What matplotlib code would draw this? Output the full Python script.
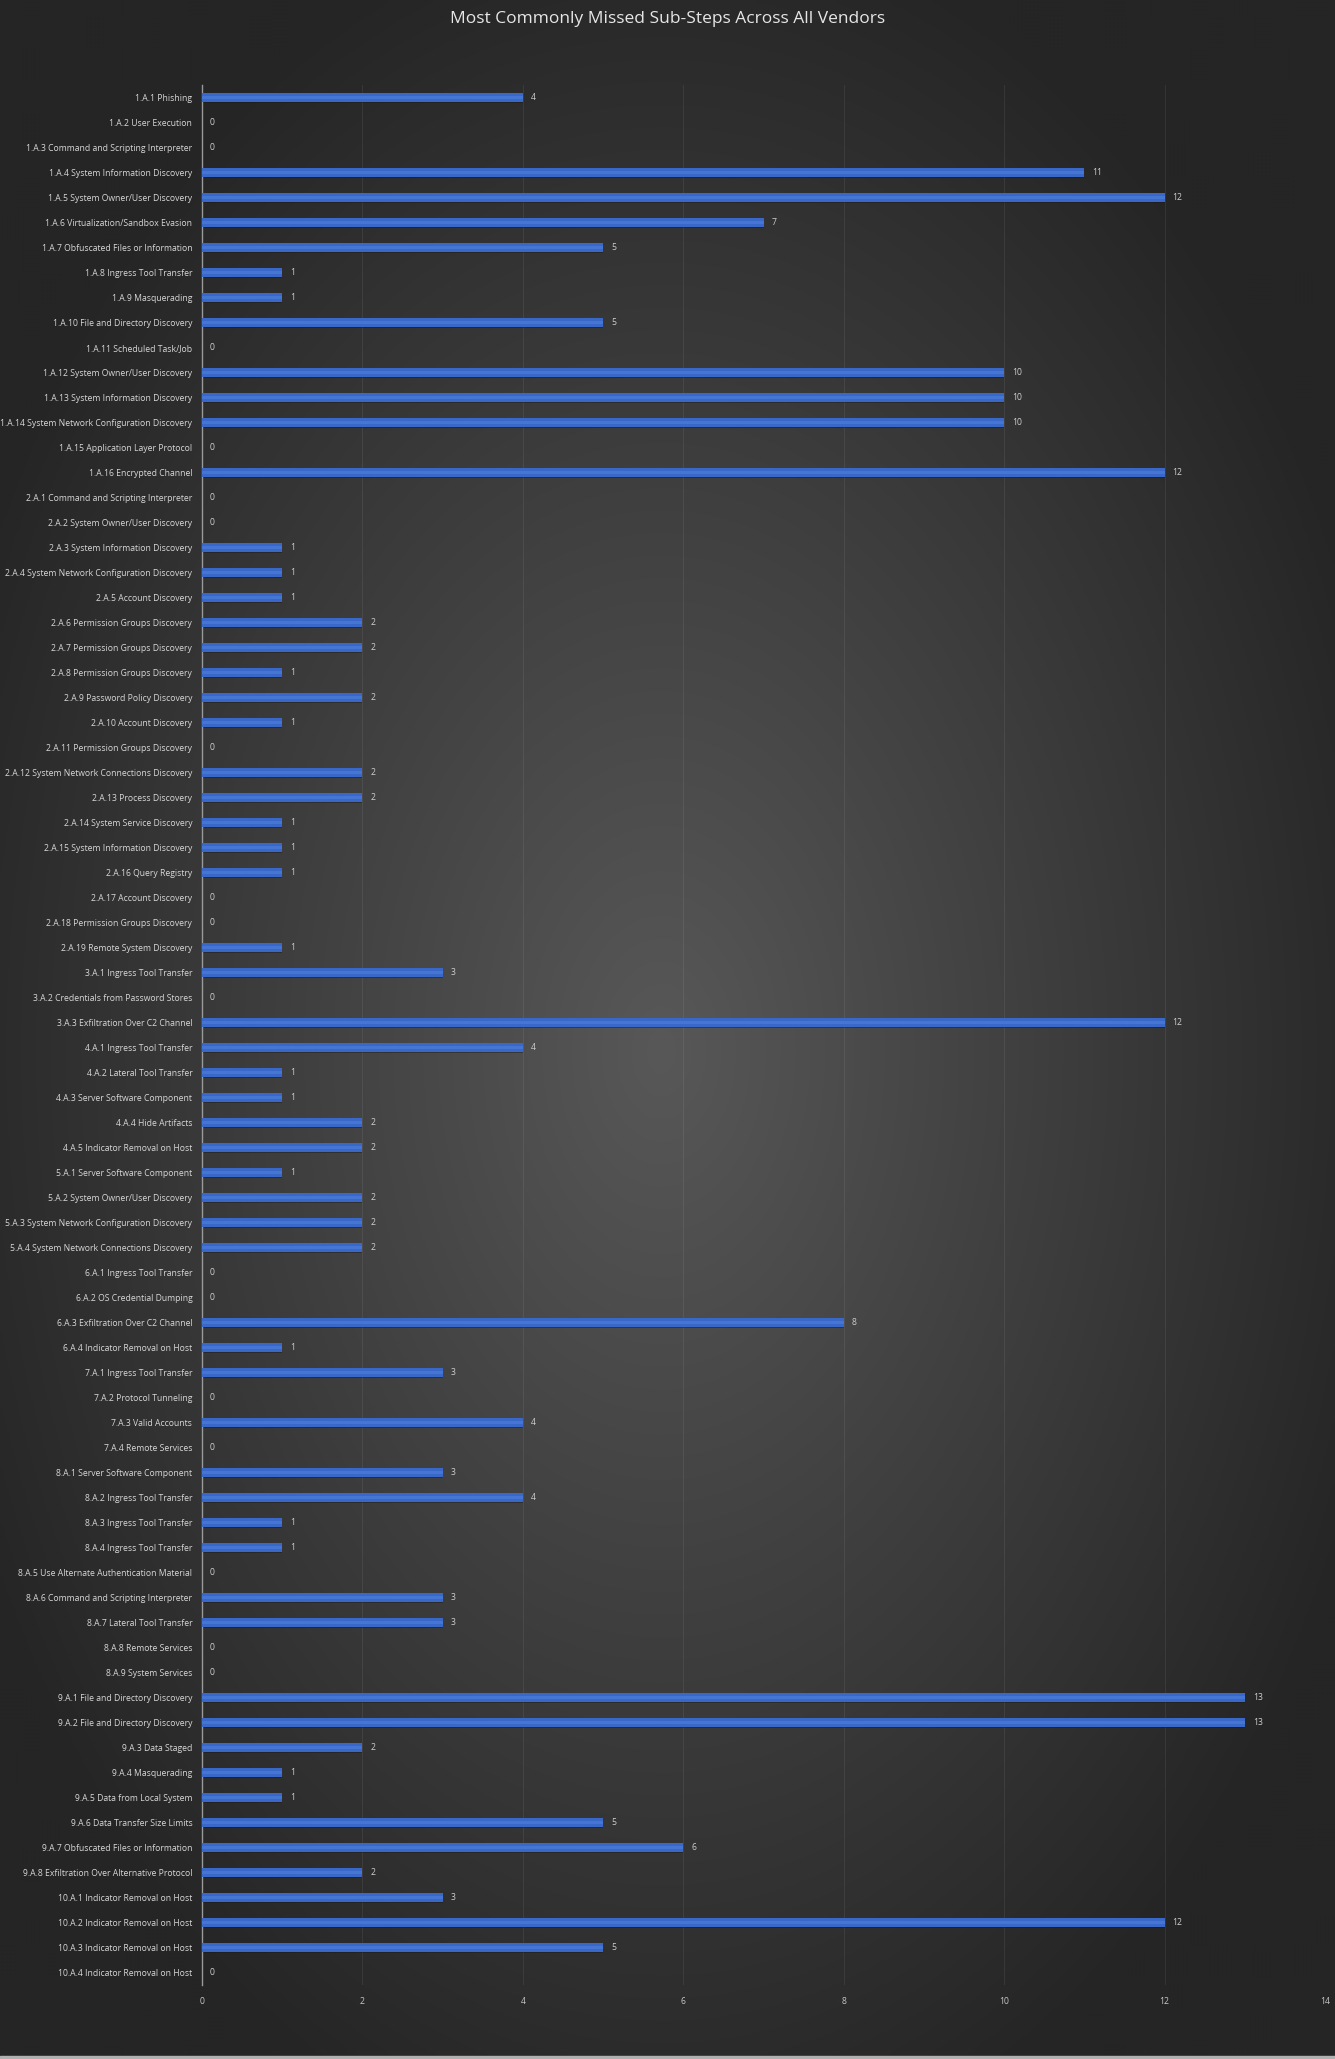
import matplotlib
matplotlib.use("Agg")
import matplotlib.pyplot as plt
import numpy as np
from matplotlib.patches import Rectangle

labels = [
    "1.A.1 Phishing", "1.A.2 User Execution", "1.A.3 Command and Scripting Interpreter",
    "1.A.4 System Information Discovery", "1.A.5 System Owner/User Discovery",
    "1.A.6 Virtualization/Sandbox Evasion", "1.A.7 Obfuscated Files or Information",
    "1.A.8 Ingress Tool Transfer", "1.A.9 Masquerading", "1.A.10 File and Directory Discovery",
    "1.A.11 Scheduled Task/Job", "1.A.12 System Owner/User Discovery",
    "1.A.13 System Information Discovery", "1.A.14 System Network Configuration Discovery",
    "1.A.15 Application Layer Protocol", "1.A.16 Encrypted Channel",
    "2.A.1 Command and Scripting Interpreter", "2.A.2 System Owner/User Discovery",
    "2.A.3 System Information Discovery", "2.A.4 System Network Configuration Discovery",
    "2.A.5 Account Discovery", "2.A.6 Permission Groups Discovery",
    "2.A.7 Permission Groups Discovery", "2.A.8 Permission Groups Discovery",
    "2.A.9 Password Policy Discovery", "2.A.10 Account Discovery",
    "2.A.11 Permission Groups Discovery", "2.A.12 System Network Connections Discovery",
    "2.A.13 Process Discovery", "2.A.14 System Service Discovery",
    "2.A.15 System Information Discovery", "2.A.16 Query Registry",
    "2.A.17 Account Discovery", "2.A.18 Permission Groups Discovery",
    "2.A.19 Remote System Discovery", "3.A.1 Ingress Tool Transfer",
    "3.A.2 Credentials from Password Stores", "3.A.3 Exfiltration Over C2 Channel",
    "4.A.1 Ingress Tool Transfer", "4.A.2 Lateral Tool Transfer",
    "4.A.3 Server Software Component", "4.A.4 Hide Artifacts",
    "4.A.5 Indicator Removal on Host", "5.A.1 Server Software Component",
    "5.A.2 System Owner/User Discovery", "5.A.3 System Network Configuration Discovery",
    "5.A.4 System Network Connections Discovery", "6.A.1 Ingress Tool Transfer",
    "6.A.2 OS Credential Dumping", "6.A.3 Exfiltration Over C2 Channel",
    "6.A.4 Indicator Removal on Host", "7.A.1 Ingress Tool Transfer",
    "7.A.2 Protocol Tunneling", "7.A.3 Valid Accounts", "7.A.4 Remote Services",
    "8.A.1 Server Software Component", "8.A.2 Ingress Tool Transfer",
    "8.A.3 Ingress Tool Transfer", "8.A.4 Ingress Tool Transfer",
    "8.A.5 Use Alternate Authentication Material", "8.A.6 Command and Scripting Interpreter",
    "8.A.7 Lateral Tool Transfer", "8.A.8 Remote Services", "8.A.9 System Services",
    "9.A.1 File and Directory Discovery", "9.A.2 File and Directory Discovery",
    "9.A.3 Data Staged", "9.A.4 Masquerading", "9.A.5 Data from Local System",
    "9.A.6 Data Transfer Size Limits", "9.A.7 Obfuscated Files or Information",
    "9.A.8 Exfiltration Over Alternative Protocol", "10.A.1 Indicator Removal on Host",
    "10.A.2 Indicator Removal on Host", "10.A.3 Indicator Removal on Host",
    "10.A.4 Indicator Removal on Host",
]
values = [
    4, 0, 0, 11, 12, 7, 5, 1, 1, 5, 0, 10, 10, 10, 0, 12,
    0, 0, 1, 1, 1, 2, 2, 1, 2, 1, 0, 2, 2, 1, 1, 1, 0, 0, 1,
    3, 0, 12,
    4, 1, 1, 2, 2,
    1, 2, 2, 2,
    0, 0, 8, 1,
    3, 0, 4, 0,
    3, 4, 1, 1, 0, 3, 3, 0, 0,
    13, 13, 2, 1, 1, 5, 6, 2,
    3, 12, 5, 0,
]
x_ticks = [0, 2, 4, 6, 8, 10, 12, 14]
title = "Most Commonly Missed Sub-Steps Across All Vendors"

FONT = ["Open Sans", "DejaVu Sans"]
W, H = 1335, 2059
fig = plt.figure(figsize=(W / 100, H / 100), dpi=100)

# radial gradient background
bg = fig.add_axes([0, 0, 1, 1], zorder=-10)
yy, xx = np.mgrid[0:H:4, 0:W:4]
cx, cy = 660, 1050
r = np.sqrt(((xx - cx) / 760.0) ** 2 + ((yy - cy) / 1150.0) ** 2)
r = np.clip(r, 0, 1)
inner = np.array([0x58, 0x58, 0x58]) / 255
outer = np.array([0x25, 0x25, 0x25]) / 255
img = inner[None, None, :] * (1 - r[..., None]) + outer[None, None, :] * r[..., None]
bg.imshow(img, extent=[0, W, H, 0], aspect="auto", interpolation="bilinear")
bg.set_xlim(0, W)
bg.set_ylim(H, 0)
bg.axis("off")
bg.add_patch(Rectangle((0, H - 3), W, 3, color="#b0b0b0"))

ax = fig.add_axes([202 / W, 1 - 1985 / H, (1325 - 202) / W, (1985 - 85) / H])
ax.patch.set_alpha(0)
n = len(labels)
y = np.arange(n)

# shadow then bars
ax.barh(y + 0.05, values, height=0.36, color="#151515", alpha=0.4, zorder=2)
ax.barh(y, values, height=0.34, color="#3a68c8", zorder=3)
ax.barh(y - 0.02, values, height=0.12, color="#4576d4", zorder=4)

for yi, v in zip(y, values):
    ax.text(v + 0.1, yi, str(v), va="center", ha="left", fontsize=6.2,
            color="#d0d0d0", family=FONT, zorder=5)

ax.set_ylim(n - 0.5, -0.5)
ax.set_xlim(0, 14)
ax.set_yticks(y)
ax.set_yticklabels(labels, family=FONT, fontsize=6.2, color="#d8d8d8")
ax.set_xticks(x_ticks)
ax.set_xticklabels([str(t) for t in x_ticks], family=FONT, fontsize=6.2, color="#c8c8c8")
ax.tick_params(axis="both", length=0)
ax.tick_params(axis="y", pad=7)
ax.tick_params(axis="x", pad=9)
ax.grid(axis="x", color="#ffffff", alpha=0.07, linewidth=0.8, zorder=0)
ax.set_axisbelow(True)
for s in ["top", "right", "bottom"]:
    ax.spines[s].set_visible(False)
ax.spines["left"].set_color("#9a9a9a")
ax.spines["left"].set_linewidth(1.0)

fig.text(0.5, 1 - 19 / H, title, ha="center", va="center", fontsize=12.5,
         color="#e6e6e6", family=FONT)

fig.savefig("out.png", dpi=100)
